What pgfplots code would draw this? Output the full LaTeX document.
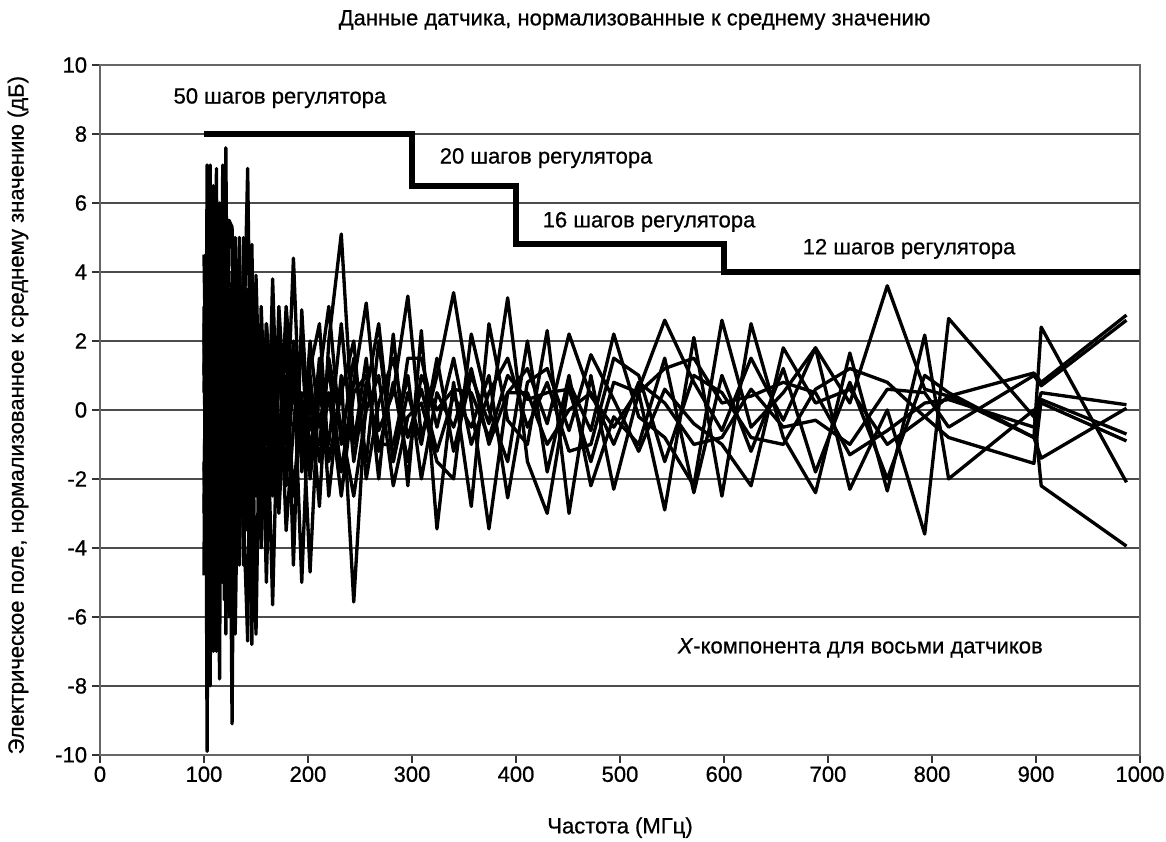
\documentclass[border=0pt]{standalone}
\usepackage{pgfplots}
\pgfplotsset{compat=1.18}
\usepackage{pgfplotstable}
\usepackage{fontspec}
\setmainfont{Liberation Sans}
\newfontfamily\heavyfont[FakeBold=0.7]{Liberation Sans}

% Normalised X-component field for the eight sensors (dB), versus frequency (MHz)
\pgfplotstableread{
f     s1    s2    s3    s4    s5    s6    s7    s8
100   -3.0  2.5   4.5   -4.8  1.0   -1.5  0.5   3.0
101.5 2.0   -3.0  1.5   4.0   4.5   -4.0  3.5   -2.0
103   -9.9  7.1   -4.8  3.5   -6.0  5.0   -2.5  1.0
104.5 1.0   -2.5  3.0   -4.5  2.5   -3.0  4.0   5.0
106   4.5   -5.0  7.1   -2.0  2.0   -8.0  3.0   -4.0
107.5 -5.5  4.0   -1.0  3.0   -4.0  5.5   -2.0  -1.0
109   -2.0  3.5   -6.0  6.5   -3.0  2.5   -7.0  4.5
110.5 3.0   -6.5  2.0   -2.5  2.5   -5.0  4.5   1.5
112   5.5   -4.5  3.0   -7.0  7.0   -3.5  1.5   -2.5
113.5 -2.0  2.5   -3.5  4.0   -5.5  1.0   -3.0  4.0
115   -4.0  6.0   -7.8  2.0   -1.5  4.5   -2.5  0.5
116.5 4.5   -4.0  2.5   -5.0  3.5   -2.5  1.0   -3.5
118   2.0   7.1   4.0   -3.5  -5.0  -1.0  5.0   3.0
119.5 -3.0  3.0   -5.5  1.5   -2.0  4.0   -3.5  2.0
121   7.6   -2.0  -3.0  5.0   3.0   -6.5  -4.0  1.0
122.5 1.5   -4.5  2.0   -2.0  4.5   -2.0  3.5   -3.0
124   -3.5  2.5   5.5   -6.0  -2.0  3.5   1.0   -5.0
127   3.0   -9.1  5.3   1.5   4.0   -1.5  -4.0  2.0
130   -2.5  3.5   -5.0  3.0   -6.5  2.0   5.0   -1.0
134   4.0   -4.0  2.0   -4.5  1.5   -2.5  -1.0  5.0
138   -1.5  1.5   -3.0  5.0   -2.0  4.0   1.0   -4.5
142   2.5   7.0   -6.7  0.5   3.5   -3.5  -2.0  1.0
146   -3.0  -2.5  4.8   -6.8  1.0   2.5   3.0   -1.0
150   1.5   3.0   -2.0  3.9   -6.5  1.0   -2.5  2.5
155   -2.0  -3.8  2.5   -1.5  3.0   -4.0  1.5   -3.0
160   2.5   1.0   -3.0  2.0   -1.0  2.5   -5.0  1.5
166   -1.0  -5.65 3.8   -2.5  1.5   0.0   2.5   -2.0
172   1.8   1.5   -2.0  3.0   -3.0  -1.5  -0.5  2.0
179   -2.2  -1.0  2.5   -0.5  1.0   3.0   -1.5  -3.5
186   1.0   4.4   -4.5  1.5   -2.5  0.2   2.0   -0.5
194   -1.5  -1.8  2.9   -5.0  0.5   1.8   -1.0  2.0
202   2.0   0.5   -1.5  1.2   -4.7  -2.0  1.0   -0.5
211   -0.5  -2.8  1.5   2.5   1.0   0.5   -1.5  -1.0
220   1.2   2.0   -2.5  -1.5  3.0   -1.0  0.5   1.5
232   -1.8  5.1   1.0   0.5   -1.0  2.5   -2.5  -0.5
244   0.8   -1.0  -5.57 2.0   1.5   -1.5  0.5   -2.5
256   3.1   1.5   0.5   -2.0  -1.5  0.8   1.0   0.0
268   -0.6  -2.0  2.5   0.2   2.0   -1.0  -1.2  1.0
282   0.5   2.2   -1.5  1.5   -1.5  -1.0  0.8   -2.2
296   3.3   -2.2  0.5   -0.8  1.5   1.0   -1.5  -0.2
309   -0.8  2.3   -1.0  0.6   1.5   -2.0  1.0   0.2
324   1.0   -3.45 1.5   -1.2  -0.5  0.5   0.0   -1.5
340   3.4   0.8   -1.2  0.4   1.5   -0.5  0.6   -2.0
357   0.2   -2.8  1.0   -0.5  -1.0  1.2   0.5   2.2
374   -3.45 2.5   -0.4  1.0   0.5   -1.0  -0.8  0.0
392   0.5   -0.3  3.25  -2.55 1.5   0.5   1.0   -1.5
411   1.2   -1.0  -1.5  0.8   -0.5  0.5   0.3   2.0
430   -0.4  2.3   -3.0  1.2   0.8   -1.0  0.5   -1.8
451   2.2   -3.0  0.8   -0.6  -1.2  0.0   0.6   1.0
472   0.4   1.0   -0.6  1.6   -1.0  0.5   -1.5  -2.2
494   -0.5  -2.3  2.2   0.3   1.5   -1.0  0.8   -0.2
518   0.6   0.5   -0.2  -1.2  1.0   0.8   0.5   -1.0
543   2.6   -2.9  -0.8  0.6   -1.5  0.2   1.2   1.5
571   0.8   2.1   -2.2  -0.4  1.0   -1.0  1.5   -2.4
598   -0.6  -2.5  2.6   -1.0  0.5   -0.8  0.2   1.0
626   1.5   2.5   -0.5  -2.2  -0.8  0.6   0.4   -1.2
657   -0.3  -0.8  0.5   1.8   -1.0  -0.5  0.8   1.2
688   1.8   -2.4  1.8   0.2   0.6   -0.3  0.5   -1.8
721   0.2   1.65  -2.3  0.6   1.2   -1.0  -1.3  0.8
757   3.6   -2.35 0.0   -1.0  0.8   0.6   -0.6  -2.0
793   0.6   2.17  -3.6  -0.2  -0.2  0.5   0.2   1.0
816   0.4   -2.0  2.65  0.4   -0.8  -0.5  0.3   0.5
898   1.07  0.0   -0.2  -0.8  -1.55 1.0   -0.5  -0.8
905   0.8   -2.2  0.5   -1.4  0.3   0.7   0.2   2.4
987   2.75  -3.95 0.15  0.05  -0.7  2.6   -0.9  -2.1
}\sensors

% Tuner step count per frequency band, drawn on the same dB axis
\pgfplotstableread{
f     lvl
100   8
300   8
300   6.5
400   6.5
400   4.8
600   4.8
600   4
1000  4
}\steps

\newcommand{\lbl}{\heavyfont\fontsize{8.6}{10}\selectfont}

\begin{document}
\begin{tikzpicture}
% page frame around the plot area (axis box sits at the origin)
\path[use as bounding box] (-1.372cm,-1.193cm) rectangle (14.627cm,10.357cm);
\begin{axis}[
  name=ax,
  at={(0,0)}, anchor=south west,
  scale only axis,
  width=14.27cm, height=9.465cm,
  xmin=0, xmax=1000, ymin=-10, ymax=10,
  xtick={0,100,...,1000},
  ytick={-10,-8,...,10},
  yticklabels={-10,-8,-6,-4,-2,0,2,4,6,8,10},
  xticklabels={0,100,200,300,400,500,600,700,800,900,1000},
  xtick pos=left, ytick pos=left,
  tick align=outside,
  major tick length=3pt,
  tick style={black!80, line width=0.6pt},
  ymajorgrids,
  major grid style={black!70, line width=0.6pt},
  axis line style={black!60, line width=0.8pt},
  ticklabel style={font=\lbl},
  xticklabel style={yshift=2pt},
  yticklabel style={xshift=1.5pt},
  clip mode=individual,
]
\pgfplotsinvokeforeach{1,...,8}{
  \addplot[black, line width=1.3pt, line join=round] table[x=f, y=s#1] {\sensors};
}
\addplot[black, line width=2.4pt, line join=miter] table[x=f, y=lvl] {\steps};

\node[font=\lbl, anchor=center] at (axis cs:173,9.04) {50 шагов регулятора};
\node[font=\lbl, anchor=west] at (axis cs:318,7.30) {20 шагов регулятора};
\node[font=\lbl, anchor=west] at (axis cs:417,5.45) {16 шагов регулятора};
\node[font=\lbl, anchor=west] at (axis cs:667,4.67) {12 шагов регулятора};
\node[font=\lbl, anchor=west] at (axis cs:547,-6.9) {\textit{X}-компонента для восьми датчиков};
\end{axis}
% title and axis labels
\node[font=\lbl] at (7.335cm,10.082cm) {Данные датчика, нормализованные к среднему значению};
\node[font=\lbl] at (7.135cm,-1.0cm) {Частота (МГц)};
\node[font=\lbl, rotate=90] at (-1.125cm,4.66cm) {Электрическое поле, нормализованное к среднему значению (дБ)};
\end{tikzpicture}
\end{document}
